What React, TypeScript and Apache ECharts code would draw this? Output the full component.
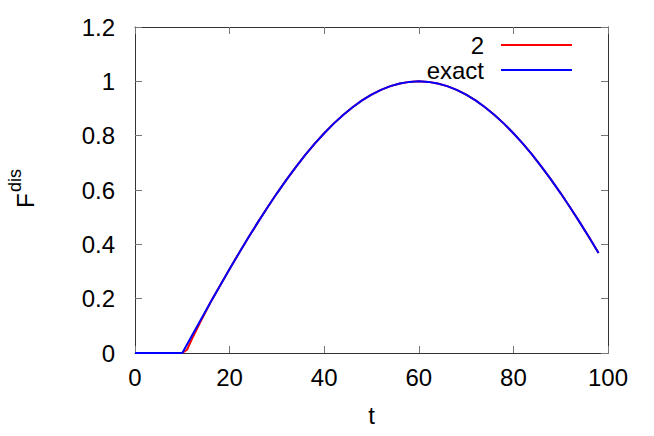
import React, { useEffect, useRef } from "react";
import * as echarts from "echarts";

const tValues = [0, 10, 11, 12, 14, 16, 18, 20, 22, 24, 26, 28, 30, 32, 34, 36, 38, 40, 42, 44, 46, 48, 50, 52, 54, 56, 58, 60, 62, 64, 66, 68, 70, 72, 74, 76, 78, 80, 82, 84, 86, 88, 90, 92, 94, 96, 98];

const exactValues = [0, 0, 0.0314, 0.0628, 0.1253, 0.1874, 0.2487, 0.309, 0.3681, 0.4258, 0.4818, 0.5358, 0.5878, 0.6374, 0.6845, 0.729, 0.7705, 0.809, 0.8443, 0.8763, 0.9048, 0.9298, 0.9511, 0.9686, 0.9823, 0.9921, 0.998, 1, 0.998, 0.9921, 0.9823, 0.9686, 0.9511, 0.9298, 0.9048, 0.8763, 0.8443, 0.809, 0.7705, 0.729, 0.6845, 0.6374, 0.5878, 0.5358, 0.4818, 0.4258, 0.3681];

const series2Values = [0, 0, 0.012, 0.05, 0.12, 0.1874, 0.2487, 0.309, 0.3681, 0.4258, 0.4818, 0.5358, 0.5878, 0.6374, 0.6845, 0.729, 0.7705, 0.809, 0.8443, 0.8763, 0.9048, 0.9298, 0.9511, 0.9686, 0.9823, 0.9921, 0.998, 1, 0.998, 0.9921, 0.9823, 0.9686, 0.9511, 0.9298, 0.9048, 0.8763, 0.8443, 0.809, 0.7705, 0.729, 0.6845, 0.6374, 0.5878, 0.5358, 0.4818, 0.4258, 0.3681];

const seriesNames = ["2", "exact"];
const seriesColors = ["#ff0000", "#0000ff"];

const FONT = '"Liberation Sans", Arial, Helvetica, sans-serif';

export default function App() {
  const ref = useRef<HTMLDivElement>(null);

  useEffect(() => {
    if (!ref.current) return;
    const chart = echarts.init(ref.current, null, { renderer: "svg" });
    const grid = { left: 135, right: 46, top: 27, bottom: 83 };
    const axisLine = { show: true, onZero: false, lineStyle: { color: "#333", width: 1 } };
    const axisTick = { show: true, inside: true, length: 7, lineStyle: { color: "#777", width: 1 } };
    const labelStyle = { color: "#000", fontSize: 24, fontFamily: FONT };

    const legendItems: any[] = [];
    seriesNames.forEach((name, i) => {
      const y = 45 + i * 25;
      legendItems.push({
        type: "text",
        x: 484,
        y: y,
        style: {
          text: name,
          fill: "#000",
          font: `24px ${FONT}`,
          textAlign: "right",
          textVerticalAlign: "middle",
        },
        z: 10,
      });
      legendItems.push({
        type: "line",
        shape: { x1: 501, y1: y, x2: 572, y2: y },
        style: { stroke: seriesColors[i], lineWidth: 2 },
        z: 10,
      });
    });

    chart.setOption({
      animation: false,
      grid,
      xAxis: [
        {
          type: "value",
          min: 0,
          max: 100,
          interval: 20,
          position: "bottom",
          axisLine,
          axisTick,
          splitLine: { show: false },
          axisLabel: { ...labelStyle, margin: 12 },
          name: "t",
          nameLocation: "middle",
          nameGap: 50,
          nameTextStyle: { color: "#000", fontSize: 24, fontFamily: FONT },
        },
        {
          type: "value",
          min: 0,
          max: 100,
          interval: 20,
          position: "top",
          axisLine,
          axisTick,
          splitLine: { show: false },
          axisLabel: { show: false },
        },
      ],
      yAxis: [
        {
          type: "value",
          min: 0,
          max: 1.2,
          interval: 0.2,
          position: "left",
          axisLine,
          axisTick,
          splitLine: { show: false },
          axisLabel: { ...labelStyle, margin: 20 },
        },
        {
          type: "value",
          min: 0,
          max: 1.2,
          interval: 0.2,
          position: "right",
          axisLine,
          axisTick,
          splitLine: { show: false },
          axisLabel: { show: false },
        },
      ],
      series: [
        {
          name: seriesNames[0],
          type: "line",
          data: tValues.map((t, i) => [t, series2Values[i]]),
          showSymbol: false,
          lineStyle: { color: seriesColors[0], width: 2 },
          itemStyle: { color: seriesColors[0] },
          z: 3,
        },
        {
          name: seriesNames[1],
          type: "line",
          data: tValues.map((t, i) => [t, exactValues[i]]),
          showSymbol: false,
          lineStyle: { color: seriesColors[1], width: 2 },
          itemStyle: { color: seriesColors[1] },
          z: 4,
        },
      ],
      graphic: [
        ...legendItems,
        {
          type: "text",
          x: 37,
          y: 208,
          rotation: Math.PI / 2,
          style: {
            text: "F",
            fill: "#000",
            font: `24px ${FONT}`,
            textAlign: "left",
            textVerticalAlign: "bottom",
          },
        },
        {
          type: "text",
          x: 24,
          y: 192,
          rotation: Math.PI / 2,
          style: {
            text: "dis",
            fill: "#000",
            font: `18px ${FONT}`,
            textAlign: "left",
            textVerticalAlign: "bottom",
          },
        },
      ],
    });
    return () => chart.dispose();
  }, []);

  return <div ref={ref} style={{ width: 654, height: 436, position: "absolute", left: 0, top: 0 }} />;
}
